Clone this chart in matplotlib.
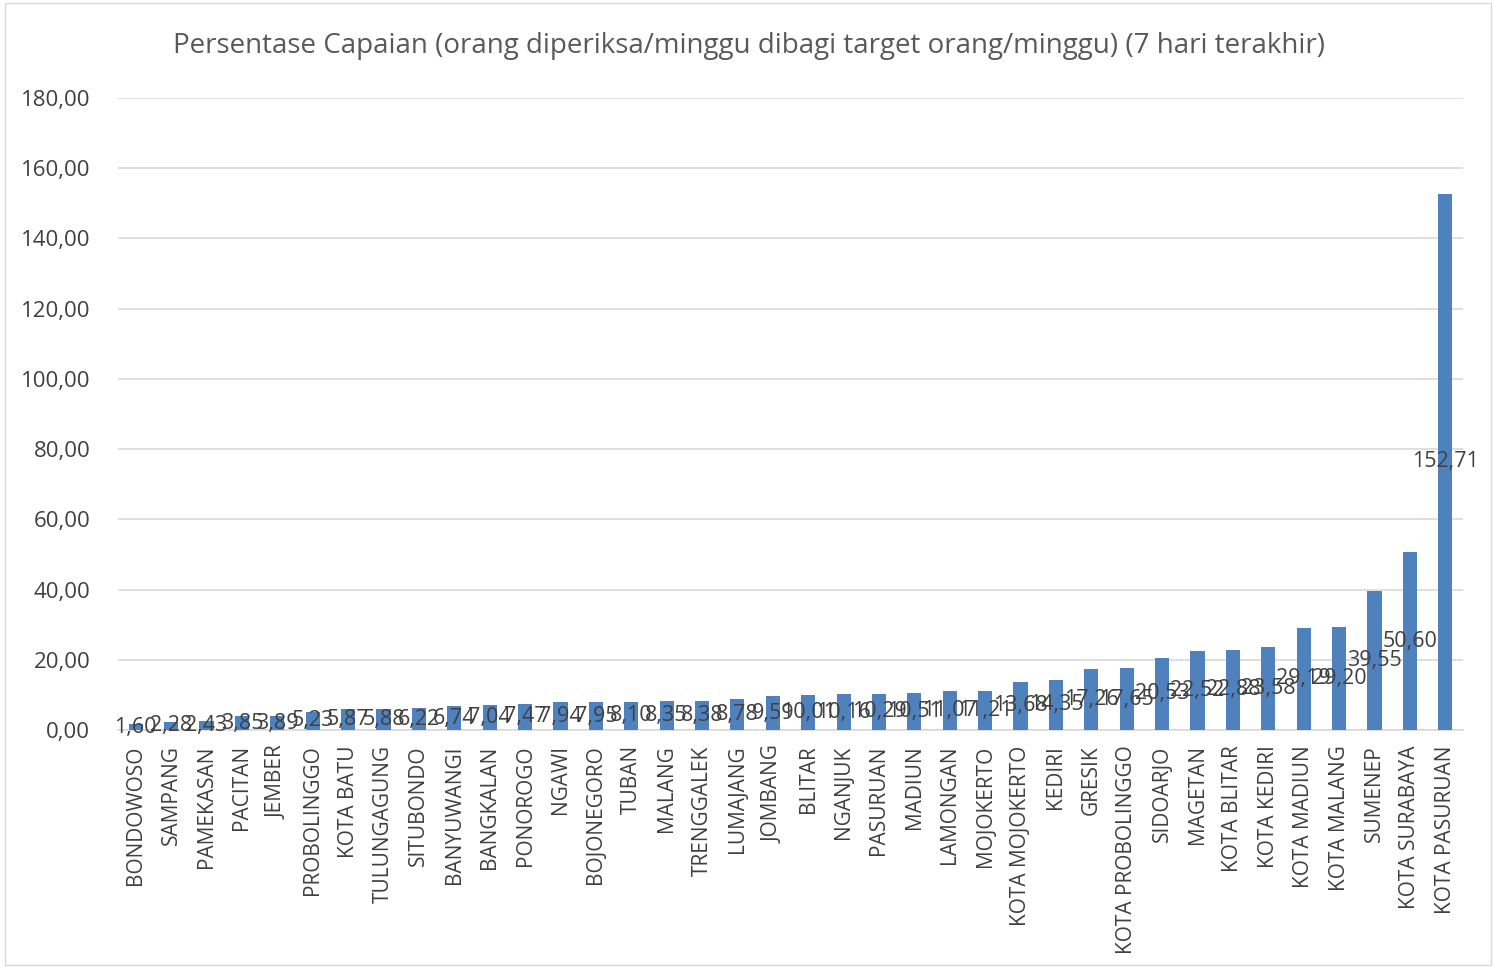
import matplotlib.pyplot as plt
from matplotlib.ticker import FuncFormatter
from matplotlib.patches import Rectangle

# Data
regions = ['BONDOWOSO', 'SAMPANG', 'PAMEKASAN', 'PACITAN', 'JEMBER', 'PROBOLINGGO',
           'KOTA BATU', 'TULUNGAGUNG', 'SITUBONDO', 'BANYUWANGI', 'BANGKALAN',
           'PONOROGO', 'NGAWI', 'BOJONEGORO', 'TUBAN', 'MALANG', 'TRENGGALEK',
           'LUMAJANG', 'JOMBANG', 'BLITAR', 'NGANJUK', 'PASURUAN', 'MADIUN',
           'LAMONGAN', 'MOJOKERTO', 'KOTA MOJOKERTO', 'KEDIRI', 'GRESIK',
           'KOTA PROBOLINGGO', 'SIDOARJO', 'MAGETAN', 'KOTA BLITAR', 'KOTA KEDIRI',
           'KOTA MADIUN', 'KOTA MALANG', 'SUMENEP', 'KOTA SURABAYA', 'KOTA PASURUAN']
capaian = [1.60, 2.28, 2.43, 3.85, 3.89, 5.23, 5.87, 5.88, 6.22, 6.74, 7.04,
           7.47, 7.94, 7.95, 8.10, 8.35, 8.38, 8.78, 9.59, 10.01, 10.16, 10.29,
           10.51, 11.07, 11.21, 13.68, 14.35, 17.26, 17.65, 20.53, 22.52, 22.88,
           23.58, 29.19, 29.20, 39.55, 50.60, 152.71]

def fmt(v):
    return f'{v:.2f}'.replace('.', ',')

plt.rcParams['font.family'] = ['Open Sans', 'DejaVu Sans']

fig = plt.figure(figsize=(14.94, 9.67), dpi=100)
ax = fig.add_axes([118 / 1494, 1 - 730 / 967, 1345 / 1494, 632 / 967])

x = range(len(regions))
bars = ax.bar(x, capaian, width=0.4, color='#4f81bd', zorder=3)

# data labels centred in each bar (they overlap, as in the original)
for xi, v in zip(x, capaian):
    ax.text(xi, v / 2, fmt(v), ha='center', va='center', fontsize=15.5,
            color='#404040', zorder=4)

ax.set_xlim(-0.5, len(regions) - 0.5)
ax.set_ylim(0, 180)
ax.set_yticks(range(0, 181, 20))
ax.yaxis.set_major_formatter(FuncFormatter(lambda v, p: fmt(v)))
ax.set_xticks(list(x))
ax.set_xticklabels(regions, rotation=90, fontsize=15, color='#404040')
ax.tick_params(axis='y', labelsize=16, labelcolor='#404040', length=0, pad=20)
ax.tick_params(axis='x', length=0, pad=11)
ax.grid(axis='y', color='#d9d9d9', linewidth=1.2, zorder=0)
for s in ['top', 'right', 'left']:
    ax.spines[s].set_visible(False)
ax.spines['bottom'].set_color('#d9d9d9')
ax.spines['bottom'].set_linewidth(1.2)

fig.text(749 / 1494, 1 - 46 / 967,
         'Persentase Capaian (orang diperiksa/minggu dibagi target orang/minggu) (7 hari terakhir)',
         ha='center', va='center', fontsize=20, color='#595959')

# chart border
fig.patches.append(Rectangle((5 / 1494, 0.002), 1486 / 1494, 0.995,
                             transform=fig.transFigure, fill=False,
                             edgecolor='#d9d9d9', linewidth=1))

plt.savefig('out.png', dpi=100)
